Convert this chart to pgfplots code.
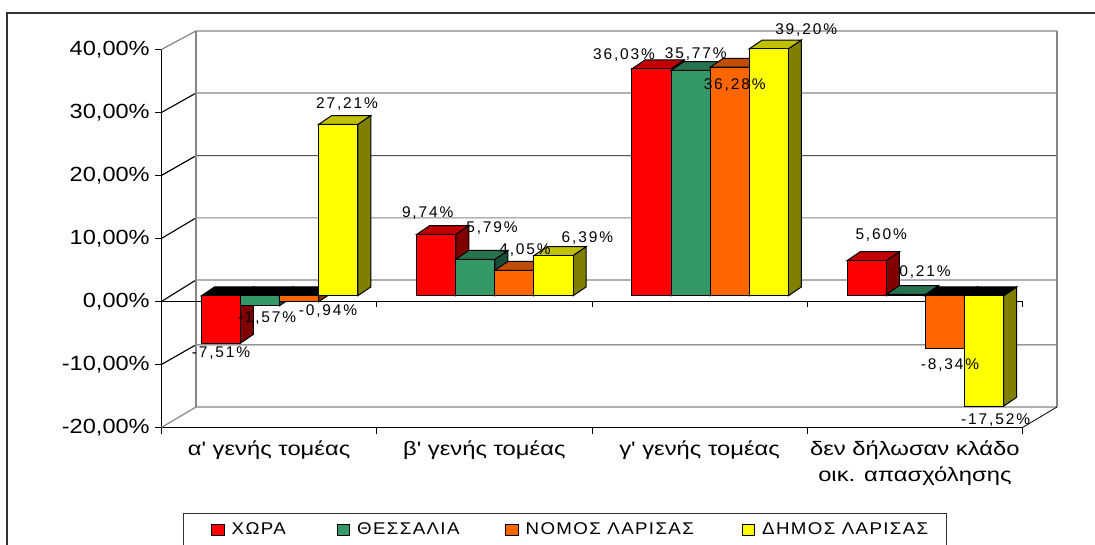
\documentclass[border=0pt]{standalone}
\usepackage{fontspec}
\usepackage{pgfplots}
\pgfplotsset{compat=1.18}
\setmainfont{Liberation Sans}
\newfontfamily\tickfam[FakeStretch=1.15]{Liberation Sans}
\newfontfamily\labfam[LetterSpace=12]{Liberation Sans}
\newfontfamily\catfam[FakeStretch=1.22]{Liberation Sans}
\newfontfamily\legfam[FakeStretch=1.1,LetterSpace=8]{Liberation Sans}
\newcommand\tickf{\tickfam\fontsize{20.5}{22}\selectfont}
\newcommand\labf{\labfam\fontsize{15.5}{17}\selectfont}
\newcommand\catf{\catfam\fontsize{19.5}{26}\selectfont}
\newcommand\legf{\legfam\fontsize{17}{18}\selectfont}
\definecolor{wallgray}{HTML}{868686}
\definecolor{cRed}{HTML}{FF0000}\definecolor{cRedT}{HTML}{C00000}\definecolor{cRedS}{HTML}{800000}
\definecolor{cGrn}{HTML}{339966}\definecolor{cGrnT}{HTML}{277350}\definecolor{cGrnS}{HTML}{1A4D33}
\definecolor{cOra}{HTML}{FF6600}\definecolor{cOraT}{HTML}{C04D00}\definecolor{cOraS}{HTML}{803300}
\definecolor{cYel}{HTML}{FFFF00}\definecolor{cYelT}{HTML}{C0C000}\definecolor{cYelS}{HTML}{808000}
% top and side faces of one 3-D bar: group centre, place in group, value, top colour, side colour
\newcommand\faces[5]{%
 \pgfmathsetmacro\xa{#1+(#2-2)*0.1816}%
 \pgfmathsetmacro\xb{\xa+0.1816}%
 \pgfmathsetmacro\xc{\xb+0.0604}%
 \pgfmathsetmacro\xd{\xa+0.0604}%
 \pgfmathsetmacro\ytop{max(#3,0)}%
 \pgfmathsetmacro\ybot{min(#3,0)}%
 \pgfmathsetmacro\ytt{\ytop+1.4}%
 \pgfmathsetmacro\ybb{\ybot+1.4}%
 \addplot[draw=black,line width=1pt,fill=#5,forget plot] coordinates {(\xb,\ybot)(\xc,\ybb)(\xc,\ytt)(\xb,\ytop)} --cycle;
 \addplot[draw=black,line width=1pt,fill=#4,forget plot] coordinates {(\xa,\ytop)(\xd,\ytt)(\xc,\ytt)(\xb,\ytop)} --cycle;
}
\newcommand\lbl[3]{\node[font=\labf,inner sep=0pt,anchor=base,text=black] at ({#1*1pt},{(545-#2-5.5)*1pt}) {#3};}
\newcommand\gridl[4]{\addplot[#4,line width=#3pt,forget plot] coordinates {(0,#1)(0.1607,#2)(4.16,#2)};}
\pgfplotsset{swatch/.style={legend image code/.code={\draw[#1,line width=1pt] (0pt,5pt) rectangle (12.5pt,16pt);}}}
\begin{document}
\begin{tikzpicture}
\path[use as bounding box] (0,0) rectangle (1095pt,545pt);
\draw[black!80,line width=1.3pt] (7pt,0pt) -- (7pt,532pt) -- (1095pt,532pt);
% frame axis: the front plane, with the real scale
\begin{axis}[
 at={(161.4pt,117.5pt)},anchor=south west,
 scale only axis,width=861.1pt,height=378pt,
 xmin=0,xmax=4,ymin=-20,ymax=40,clip=false,
 axis y line*=left,axis x line*=bottom,
 axis line style={-,black,line width=0.9pt},
 tick align=outside,major tick length=6.5pt,
 tick style={black,line width=0.9pt},
 ytick={-20,-10,0,10,20,30,40},
 yticklabels={{-20,00\%},{-10,00\%},{0,00\%},{10,00\%},{20,00\%},{30,00\%},{40,00\%}},
 yticklabel style={font=\tickf,text=black,inner sep=0pt,xshift=-5pt},
 xtick={0,1,2,3,4},xticklabels={},
 extra x ticks={0.5,1.5,2.5,3.5},
 extra x tick labels={{α' γενής τομέας},{β' γενής τομέας},{γ' γενής τομέας},{δεν δήλωσαν κλάδο\\οικ. απασχόλησης}},
 extra x tick style={major tick length=0pt,
   xticklabel style={font=\catf,text=black,align=center,anchor=north,inner sep=0pt,yshift=-13pt}},
]
% back wall and floor
\gridl{40}{42.95}{1.2}{wallgray}
\gridl{30}{33.08}{1.2}{wallgray}
\gridl{20}{23.14}{0.9}{black}
\gridl{10}{13.27}{1.2}{wallgray}
\gridl{0}{3.4}{1.2}{wallgray}
\gridl{-10}{-6.87}{1}{black!65}
\gridl{-20}{-16.75}{1.2}{wallgray}
\addplot[black,line width=0.9pt,forget plot] coordinates {(0,30)(0.1607,33.08)};
\addplot[black,line width=0.9pt,forget plot] coordinates {(0,20)(0.1607,23.14)};
\addplot[black,line width=0.9pt,forget plot] coordinates {(0,10)(0.1607,13.27)};
\addplot[black,line width=0.9pt,forget plot] coordinates {(0,0)(0.1607,3.4)};
\addplot[black,line width=0.9pt,forget plot] coordinates {(0,-10)(0.1607,-6.87)};
\addplot[wallgray,line width=1.5pt,forget plot] coordinates {(0.1607,-16.75)(0.1607,42.95)};
\addplot[wallgray,line width=1.5pt,forget plot] coordinates {(4.16,-16.75)(4.16,42.95)};
\addplot[black,line width=0.8pt,forget plot] coordinates {(4,-20)(4.16,-16.75)};
% zero line with its ticks
\addplot[black,line width=1.5pt,forget plot] coordinates {(0,0)(4,0)};
\addplot[black,line width=0.9pt,forget plot] coordinates {(1,0)(1,-0.95)};
\addplot[black,line width=0.9pt,forget plot] coordinates {(2,0)(2,-0.95)};
\addplot[black,line width=0.9pt,forget plot] coordinates {(3,0)(3,-0.95)};
\addplot[black,line width=0.9pt,forget plot] coordinates {(4,0)(4,-0.95)};
\end{axis}
% bar axis: same size, shifted to the foot of the 3-D bars
\begin{axis}[
 at={(161.4pt,117.5pt)},anchor=south west,
 scale only axis,width=861.1pt,height=378pt,
 xmin=-0.049,xmax=3.951,ymin=-20.905,ymax=39.095,clip=false,
 hide axis,
 legend style={at={(rel axis cs:0.0251,-0.2262)},anchor=north west,
   draw=black!80,line width=1pt,fill=white,font=\legf,text=black,
   legend columns=4,inner xsep=27.7pt,inner ysep=4pt,
   nodes={inner sep=0pt,text depth=30pt},
   /tikz/every odd column/.append style={column sep=7pt}},
 legend cell align=left,
]
\faces{0.5}{0}{-7.51}{black}{cRedS}
\faces{1.5}{0}{9.74}{cRedT}{cRedS}
\faces{2.5}{0}{36.03}{cRedT}{cRedS}
\faces{3.5}{0}{5.60}{cRedT}{cRedS}
\addplot[ybar,bar width=39.1pt,bar shift=-58.65pt,fill=cRed,draw=black,line width=1pt,swatch={fill=cRed,draw=black}]
 coordinates {(0.5,-7.51)(1.5,9.74)(2.5,36.03)(3.5,5.60)};
\addlegendentry{\makebox[105pt][l]{\rule{0pt}{17pt}ΧΩΡΑ}}
\faces{0.5}{1}{-1.57}{black}{cGrnS}
\faces{1.5}{1}{5.79}{cGrnT}{cGrnS}
\faces{2.5}{1}{35.77}{cGrnT}{cGrnS}
\faces{3.5}{1}{0.21}{cGrnT}{cGrnS}
\addplot[ybar,bar width=39.1pt,bar shift=-19.55pt,fill=cGrn,draw=black,line width=1pt,swatch={fill=cGrn,draw=black}]
 coordinates {(0.5,-1.57)(1.5,5.79)(2.5,35.77)(3.5,0.21)};
\addlegendentry{\makebox[148pt][l]{\rule{0pt}{17pt}ΘΕΣΣΑΛΙΑ}}
\faces{0.5}{2}{-0.94}{black}{cOraS}
\faces{1.5}{2}{4.05}{cOraT}{cOraS}
\faces{2.5}{2}{36.28}{cOraT}{cOraS}
\faces{3.5}{2}{-8.34}{black}{cOraS}
\addplot[ybar,bar width=39.1pt,bar shift=19.55pt,fill=cOra,draw=black,line width=1pt,swatch={fill=cOra,draw=black}]
 coordinates {(0.5,-0.94)(1.5,4.05)(2.5,36.28)(3.5,-8.34)};
\addlegendentry{\makebox[216pt][l]{\rule{0pt}{17pt}ΝΟΜΟΣ ΛΑΡΙΣΑΣ}}
\faces{0.5}{3}{27.21}{cYelT}{cYelS}
\faces{1.5}{3}{6.39}{cYelT}{cYelS}
\faces{2.5}{3}{39.20}{cYelT}{cYelS}
\faces{3.5}{3}{-17.52}{black}{cYelS}
\addplot[ybar,bar width=39.1pt,bar shift=58.65pt,fill=cYel,draw=black,line width=1pt,swatch={fill=cYel,draw=black}]
 coordinates {(0.5,27.21)(1.5,6.39)(2.5,39.20)(3.5,-17.52)};
\addlegendentry{\makebox[157pt][l]{\rule{0pt}{17pt}ΔΗΜΟΣ ΛΑΡΙΣΑΣ}}
\end{axis}
% data labels
\lbl{221}{352}{-7,51\%}
\lbl{267}{316.6}{-1,57\%}
\lbl{328}{310}{-0,94\%}
\lbl{347}{103}{27,21\%}
\lbl{427.7}{212}{9,74\%}
\lbl{492}{226.6}{5,79\%}
\lbl{525}{249}{4,05\%}
\lbl{587.4}{237}{6,39\%}
\lbl{624}{53.9}{36,03\%}
\lbl{695.8}{53}{35,77\%}
\lbl{734.7}{83.8}{36,28\%}
\lbl{806.2}{28.8}{39,20\%}
\lbl{881.2}{234.3}{5,60\%}
\lbl{925}{271}{0,21\%}
\lbl{950}{364}{-8,34\%}
\lbl{995.6}{418.8}{-17,52\%}
\end{tikzpicture}
\end{document}
